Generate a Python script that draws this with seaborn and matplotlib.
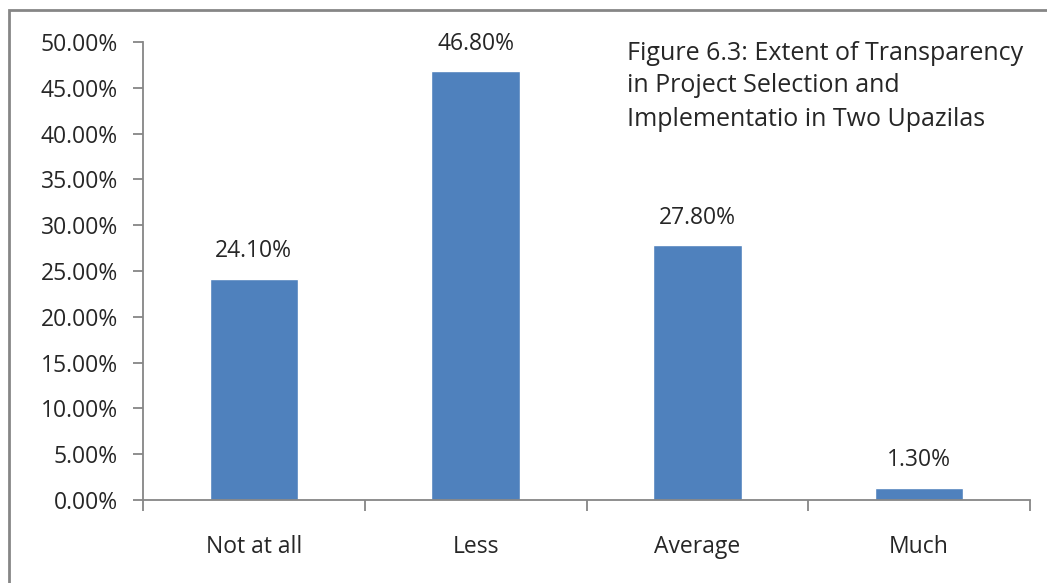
import matplotlib
matplotlib.use("Agg")
import matplotlib.pyplot as plt
import seaborn as sns
import pandas as pd
from matplotlib.patches import Rectangle
from matplotlib.ticker import PercentFormatter

categories = ["Not at all", "Less", "Average", "Much"]
shares = [0.241, 0.468, 0.278, 0.013]
title_lines = ["Figure 6.3: Extent of Transparency", "in Project Selection and",
               "Implementatio in Two Upazilas"]

sns.set_style("white")
plt.rcParams['font.family'] = ['Open Sans', 'DejaVu Sans']

df = pd.DataFrame({"cat": categories, "share": shares})

fig = plt.figure(figsize=(10.47, 5.83), dpi=100)
ax = fig.add_axes([143/1047, 83/583, 887/1047, 458/583])
sns.barplot(data=df, x="cat", y="share", color="#4F81BD", saturation=1,
            width=0.4, ax=ax)

gray = "#868686"
fs = 16.5
ax.set_ylim(0, 0.5)
ax.set_xlim(-0.5, len(categories) - 0.5)
ax.set_yticks([i * 0.05 for i in range(11)])
ax.yaxis.set_major_formatter(PercentFormatter(1.0, decimals=2))
ax.set_xlabel("")
ax.set_ylabel("")
for s in ["top", "right"]:
    ax.spines[s].set_visible(False)
for s in ["left", "bottom"]:
    ax.spines[s].set_color(gray)
    ax.spines[s].set_linewidth(1.3)

# category boundaries carry the x tick marks
ax.set_xticks([i - 0.5 for i in range(len(categories) + 1)], minor=True)
ax.tick_params(axis="x", which="minor", length=8, color=gray, width=1.3,
               direction="out", bottom=True)
ax.tick_params(axis="x", which="major", length=0, pad=25, labelsize=fs)
ax.tick_params(axis="y", length=7, color=gray, width=1.3, direction="out",
               left=True, pad=11, labelsize=fs)

for i, v in enumerate(shares):
    ax.annotate(f"{v*100:.2f}%", (i, v), xytext=(0, 20), textcoords="offset points",
                ha="center", va="center", fontsize=fs)

for k, line in enumerate(title_lines):
    fig.text(627/1047, 1 - (53 + 33 * k)/583, line, ha="left", va="center",
             fontsize=18)

# outer chart frame (left and top edges visible)
fig.patches.append(Rectangle((8.5/1047, -0.1), 1.2, (583 - 10)/583 + 0.1,
                             transform=fig.transFigure, fill=False,
                             edgecolor=gray, linewidth=2))

fig.savefig("out.png", dpi=100)
